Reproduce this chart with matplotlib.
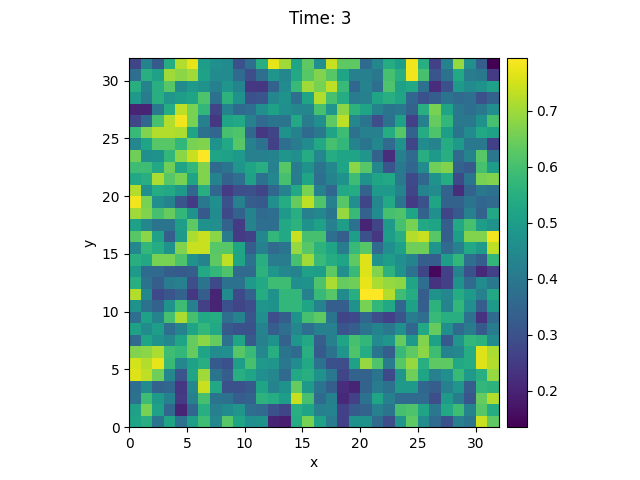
import matplotlib
matplotlib.use("Agg")
import numpy as np
from matplotlib import pyplot as plt
from mpl_toolkits.axes_grid1 import make_axes_locatable

time_step = 3
x_edges = np.arange(33)
y_edges = np.arange(33)

# field values, one list per row, from y=31 down to y=0
field_rows = [
    [.27, .43, .32, .54, .72, .77, .50, .46, .45, .30, .37, .55, .77, .70, .52, .63, .46, .74, .63, .63, .36, .44, .54, .50, .78, .55, .26, .43, .69, .46, .33, .135],
    [.37, .55, .51, .70, .68, .70, .51, .45, .45, .36, .29, .37, .48, .44, .53, .62, .67, .62, .52, .42, .42, .40, .60, .55, .78, .60, .31, .38, .53, .41, .40, .25],
    [.55, .43, .55, .62, .45, .49, .47, .42, .48, .43, .24, .24, .34, .45, .58, .70, .66, .73, .58, .35, .43, .37, .61, .51, .53, .38, .22, .30, .49, .45, .47, .51],
    [.49, .41, .55, .48, .50, .52, .61, .38, .56, .47, .30, .31, .44, .47, .37, .52, .72, .60, .54, .41, .42, .52, .55, .52, .35, .30, .33, .39, .36, .37, .30, .34],
    [.20, .20, .40, .54, .73, .66, .57, .27, .43, .36, .37, .46, .51, .46, .44, .44, .60, .48, .68, .56, .52, .43, .39, .40, .34, .55, .66, .52, .40, .37, .40, .46],
    [.27, .35, .60, .72, .78, .66, .42, .24, .52, .53, .42, .36, .39, .39, .53, .41, .46, .63, .73, .44, .39, .29, .38, .51, .26, .42, .64, .57, .40, .40, .47, .60],
    [.58, .67, .72, .72, .71, .52, .38, .35, .60, .61, .35, .24, .27, .47, .43, .36, .40, .52, .59, .38, .42, .42, .54, .62, .34, .54, .61, .50, .39, .45, .53, .51],
    [.44, .52, .62, .62, .57, .66, .67, .47, .53, .62, .42, .38, .26, .37, .41, .45, .53, .60, .57, .43, .39, .44, .36, .47, .27, .45, .43, .54, .49, .40, .40, .26],
    [.65, .46, .47, .57, .68, .74, .79, .52, .51, .49, .42, .42, .43, .48, .46, .54, .44, .54, .52, .52, .48, .34, .22, .42, .36, .55, .49, .55, .36, .43, .62, .40],
    [.59, .59, .53, .65, .52, .57, .67, .36, .39, .48, .52, .55, .42, .62, .41, .47, .39, .44, .52, .68, .62, .44, .31, .40, .35, .45, .65, .67, .34, .32, .60, .50],
    [.53, .55, .71, .62, .66, .52, .67, .43, .34, .37, .51, .38, .44, .60, .41, .52, .37, .43, .47, .59, .47, .52, .53, .40, .28, .35, .47, .54, .28, .39, .66, .67],
    [.72, .46, .54, .53, .49, .35, .55, .35, .25, .29, .30, .27, .35, .43, .53, .66, .42, .35, .53, .54, .34, .49, .49, .43, .27, .43, .45, .34, .22, .34, .40, .38],
    [.78, .66, .46, .43, .31, .25, .40, .46, .30, .42, .33, .32, .46, .54, .64, .73, .61, .42, .62, .46, .27, .44, .53, .39, .25, .30, .52, .34, .34, .39, .35, .36],
    [.70, .67, .60, .64, .57, .47, .32, .45, .28, .34, .43, .36, .37, .49, .55, .42, .44, .39, .69, .58, .34, .45, .60, .61, .52, .34, .46, .27, .32, .42, .34, .53],
    [.51, .44, .39, .39, .50, .63, .47, .46, .34, .25, .43, .37, .37, .53, .56, .47, .51, .42, .50, .38, .20, .27, .49, .60, .66, .53, .52, .33, .53, .60, .50, .47],
    [.62, .68, .51, .33, .49, .71, .74, .68, .41, .25, .26, .44, .57, .53, .74, .60, .60, .37, .33, .50, .30, .24, .50, .55, .72, .74, .62, .33, .50, .67, .67, .78],
    [.44, .57, .54, .47, .67, .74, .74, .62, .62, .52, .33, .42, .36, .39, .69, .62, .56, .52, .41, .58, .62, .36, .46, .51, .65, .65, .48, .36, .42, .53, .49, .73],
    [.55, .53, .66, .66, .61, .47, .43, .63, .73, .52, .38, .55, .41, .41, .60, .70, .58, .54, .52, .63, .76, .47, .50, .46, .43, .33, .33, .50, .57, .37, .33, .57],
    [.49, .36, .36, .33, .32, .33, .53, .57, .61, .36, .36, .56, .48, .44, .43, .51, .50, .63, .46, .58, .76, .67, .56, .47, .38, .27, .15, .26, .43, .30, .21, .26],
    [.55, .38, .33, .41, .42, .29, .39, .28, .38, .38, .49, .53, .59, .59, .46, .47, .61, .71, .64, .65, .77, .71, .69, .68, .52, .37, .23, .26, .47, .36, .45, .40],
    [.72, .44, .28, .31, .34, .24, .33, .20, .45, .28, .34, .54, .47, .57, .57, .42, .58, .62, .45, .55, .79, .79, .72, .59, .54, .33, .47, .44, .54, .49, .42, .53],
    [.47, .38, .34, .47, .59, .42, .26, .20, .30, .27, .29, .48, .47, .57, .57, .52, .43, .33, .33, .47, .66, .57, .53, .35, .51, .33, .56, .43, .57, .46, .33, .49],
    [.37, .51, .43, .60, .71, .60, .53, .54, .37, .43, .31, .46, .29, .33, .47, .60, .63, .39, .27, .28, .35, .29, .26, .31, .41, .37, .58, .55, .55, .38, .23, .36],
    [.51, .45, .50, .37, .43, .52, .57, .53, .32, .30, .30, .43, .33, .37, .44, .37, .42, .42, .31, .33, .39, .43, .40, .46, .35, .53, .64, .46, .36, .41, .32, .41],
    [.36, .52, .47, .44, .52, .64, .68, .64, .38, .52, .32, .42, .47, .34, .48, .53, .33, .42, .52, .60, .57, .45, .48, .64, .49, .67, .51, .32, .48, .57, .56, .45],
    [.67, .68, .71, .59, .57, .64, .52, .45, .46, .62, .58, .44, .55, .39, .36, .55, .32, .38, .48, .61, .54, .39, .33, .58, .63, .68, .59, .43, .44, .54, .76, .71],
    [.75, .72, .77, .58, .44, .51, .55, .32, .30, .50, .60, .49, .48, .40, .45, .53, .38, .30, .29, .51, .69, .61, .41, .62, .69, .55, .63, .63, .53, .54, .76, .72],
    [.76, .73, .65, .44, .31, .52, .70, .39, .33, .55, .52, .46, .44, .36, .53, .55, .47, .40, .27, .34, .34, .39, .28, .48, .65, .52, .42, .46, .58, .49, .55, .69],
    [.37, .45, .34, .35, .24, .44, .74, .53, .30, .30, .32, .52, .43, .47, .64, .49, .39, .33, .22, .20, .34, .41, .38, .49, .49, .35, .33, .42, .48, .33, .57, .56],
    [.38, .59, .49, .42, .25, .42, .60, .39, .38, .33, .34, .56, .54, .50, .74, .60, .36, .42, .21, .26, .38, .52, .42, .36, .36, .36, .29, .49, .41, .31, .64, .72],
    [.51, .66, .51, .35, .20, .35, .55, .42, .45, .48, .37, .36, .30, .27, .55, .52, .42, .43, .26, .32, .34, .42, .39, .60, .61, .52, .40, .53, .59, .43, .62, .54],
    [.52, .55, .39, .52, .38, .50, .59, .44, .62, .52, .46, .47, .20, .19, .54, .66, .51, .41, .26, .47, .47, .36, .29, .48, .63, .45, .36, .30, .42, .39, .74, .63],
]
field = np.array(field_rows)[::-1]

fig, ax = plt.subplots(figsize=(6.4, 4.8))
mesh = ax.pcolormesh(x_edges, y_edges, field, cmap="viridis", vmin=0.135, vmax=0.795)
ax.set_aspect("equal")
ax.set_xlabel("x")
ax.set_ylabel("y")

# colorbar in its own axes so it keeps the height of the map
divider = make_axes_locatable(ax)
cax = divider.append_axes("right", size="5.3%", pad=0.085)
fig.colorbar(mesh, cax=cax)

fig.suptitle(f"Time: {time_step}")
fig.savefig("out.png", dpi=100)
